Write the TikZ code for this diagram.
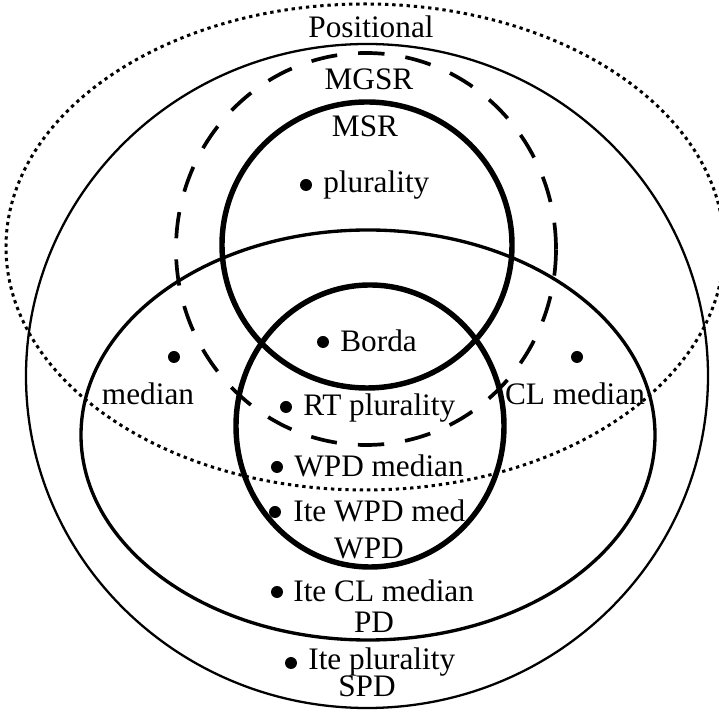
\documentclass[tikz,border=0pt]{standalone}
\usepackage{fontspec}
\setmainfont{Liberation Serif}
\usetikzlibrary{positioning}

\begin{document}
\begin{tikzpicture}[
    lbl/.style={inner sep=0pt, font=\fontsize{17.8}{20}\selectfont},
    setthin/.style={line width=1.3pt},
    setmid/.style={line width=1.9pt},
    setthick/.style={line width=3.1pt},
    setdash/.style={line width=2.1pt, dash pattern=on 15pt off 12pt},
    setdot/.style={line width=1.7pt, dash pattern=on 1.9pt off 2.2pt}]
    \useasboundingbox (-7.34,-6.78) rectangle (7.04,7.52);
    \begin{scope}
        \clip (-7.34,-6.78) rectangle (7.04,7.52);
        \draw[setdot] (-0.04,2.58) ellipse[x radius=7.18, y radius=4.86]; % positional
    \end{scope}
    \draw[setthin] (0,0) ellipse[x radius=6.82, y radius=6.64]; % SPD
    \draw[setdash] (-0.02,2.54) ellipse[x radius=3.8, y radius=3.92]; % MGSR
    \draw[setthick] (0,2.62) ellipse[x radius=2.9, y radius=2.86]; % MSR
    \draw[setmid] (0.02,-1.18) ellipse[x radius=5.74, y radius=4.1]; % PD
    \draw[setthick] (0.06,-1.0) ellipse[x radius=2.68, y radius=2.82]; % WPD
    % set names
    \node[lbl, anchor=base] (positional) at (0.08,6.76) {Positional};
    \node[lbl, anchor=base] (mgsr) at (0.04,5.72) {MGSR};
    \node[lbl, anchor=base] (msr) at (-0.04,4.78) {MSR};
    \node[lbl, anchor=base] (wpd) at (0.04,-3.66) {WPD};
    \node[lbl, anchor=base] (pd) at (0.14,-5.14) {PD};
    \node[lbl, anchor=base] (spd) at (0,-6.42) {SPD};
    % rules
    \node[lbl, anchor=base west] (plurality) at (-0.88,3.66) {plurality};
    \node[lbl, anchor=base west] (borda) at (-0.54,0.48) {Borda};
    \node[lbl, anchor=base] (median) at (-4.38,-0.58) {median};
    \node[lbl, anchor=base] (clmedian) at (4.16,-0.58) {CL median};
    \node[lbl, anchor=base west] (rtplurality) at (-1.28,-0.80) {RT plurality};
    \node[lbl, anchor=base west] (wpdmedian) at (-1.46,-2.02) {WPD median};
    \node[lbl, anchor=base west] (itewpd) at (-1.48,-2.92) {Ite WPD med};
    \node[lbl, anchor=base west] (iteclmedian) at (-1.48,-4.52) {Ite CL median};
    \node[lbl, anchor=base west] (iteplurality) at (-1.18,-5.88) {Ite plurality};
    \fill (-1.22,3.82) circle[radius=0.12];
    \fill (-0.88,0.68) circle[radius=0.12];
    \fill (-3.86,0.38) circle[radius=0.12];
    \fill (4.2,0.38) circle[radius=0.12];
    \fill (-1.62,-0.62) circle[radius=0.12];
    \fill (-1.8,-1.82) circle[radius=0.12];
    \fill (-1.84,-2.72) circle[radius=0.12];
    \fill (-1.8,-4.32) circle[radius=0.12];
    \fill (-1.52,-5.74) circle[radius=0.12];
\end{tikzpicture}
\end{document}
